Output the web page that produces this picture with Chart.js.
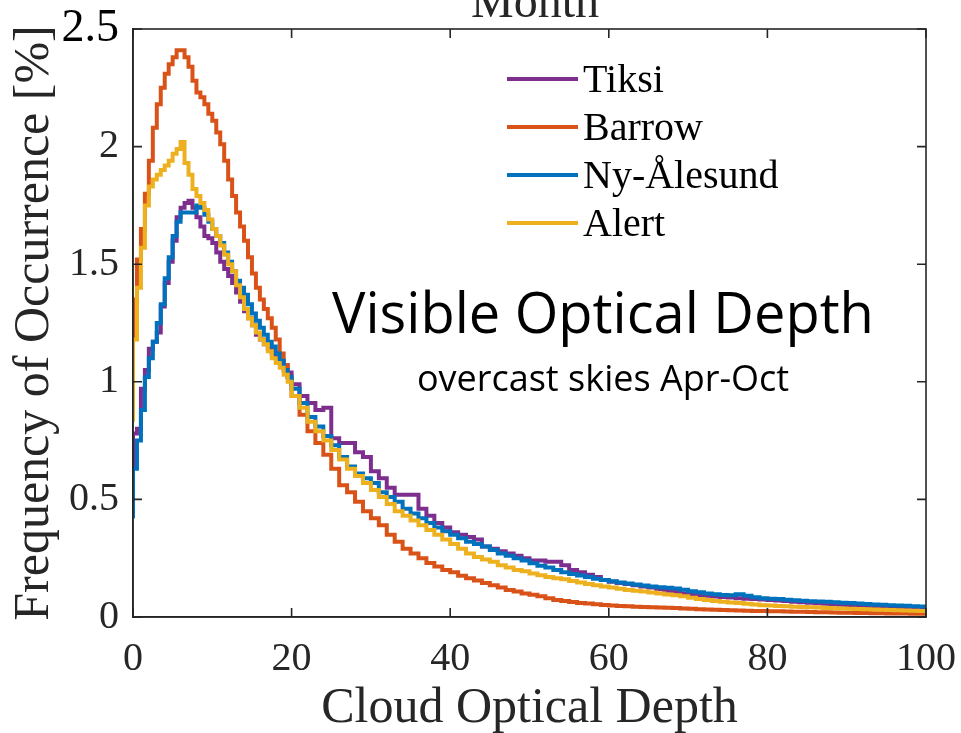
<!DOCTYPE html>
<html>
<head>
<meta charset="utf-8">
<title>Cloud Optical Depth</title>
<script src="https://cdn.jsdelivr.net/npm/chart.js@4.4.1/dist/chart.umd.min.js"></script>
<style>
  html, body { margin: 0; padding: 0; background: #fff; }
  #wrap { width: 961px; height: 733px; position: relative; }
</style>
</head>
<body>
<div id="wrap"><canvas id="myChart"></canvas></div>
<script>
// histogram bin edges (half-unit bins up to 20, unit bins after)
const odBins = [
  0, 0.5, 1, 1.5, 2, 2.5, 3, 3.5, 4, 4.5, 5, 5.5, 6, 6.5, 7, 7.5, 8, 8.5, 9, 9.5,
  10, 10.5, 11, 11.5, 12, 12.5, 13, 13.5, 14, 14.5, 15, 15.5, 16, 16.5, 17, 17.5, 18, 18.5, 19, 19.5,
  20, 21, 22, 23, 24, 25, 26, 27, 28, 29, 30, 31, 32, 33, 34, 35, 36, 37, 38, 39,
  40, 41, 42, 43, 44, 45, 46, 47, 48, 49, 50, 51, 52, 53, 54, 55, 56, 57, 58, 59,
  60, 61, 62, 63, 64, 65, 66, 67, 68, 69, 70, 71, 72, 73, 74, 75, 76, 77, 78, 79,
  80, 81, 82, 83, 84, 85, 86, 87, 88, 89, 90, 91, 92, 93, 94, 95, 96, 97, 98, 99, 100
];

const tiksi = [
  0.53, 0.78, 0.80, 0.97, 1.05, 1.14, 1.17, 1.21, 1.32, 1.42, 1.51, 1.60, 1.70, 1.74, 1.76, 1.77, 1.74, 1.70, 1.66, 1.62,
  1.61, 1.59, 1.55, 1.51, 1.48, 1.45, 1.42, 1.38, 1.34, 1.30, 1.27, 1.24, 1.20, 1.18, 1.16, 1.14, 1.12, 1.10, 1.09, 1.07,
  1.04, 0.99, 0.94, 0.91, 0.88, 0.89, 0.76, 0.74, 0.74, 0.70, 0.68, 0.62, 0.59, 0.55, 0.52, 0.52, 0.52, 0.46, 0.43, 0.40,
  0.38, 0.36, 0.35, 0.34, 0.33, 0.30, 0.29, 0.28, 0.27, 0.26, 0.25, 0.24, 0.24, 0.235, 0.235, 0.22, 0.20, 0.19, 0.18, 0.17,
  0.157, 0.15, 0.145, 0.14, 0.135, 0.13, 0.125, 0.118, 0.112, 0.107, 0.10, 0.095, 0.093, 0.09, 0.087, 0.085, 0.083, 0.080, 0.078, 0.076,
  0.074, 0.072, 0.070, 0.068, 0.065, 0.063, 0.061, 0.058, 0.056, 0.054, 0.052, 0.051, 0.049, 0.048, 0.046, 0.045, 0.044, 0.043, 0.042, 0.041, 0.040
];

const barrow = [
  0.85, 1.35, 1.52, 1.65, 1.80, 1.94, 2.08, 2.18, 2.25, 2.31, 2.35, 2.38, 2.41, 2.41, 2.38, 2.34, 2.28, 2.23, 2.21, 2.18,
  2.14, 2.11, 2.06, 2.01, 1.94, 1.86, 1.79, 1.72, 1.66, 1.60, 1.53, 1.46, 1.40, 1.35, 1.31, 1.27, 1.23, 1.18, 1.12, 1.07,
  1.02, 0.94, 0.86, 0.79, 0.74, 0.69, 0.63, 0.56, 0.53, 0.49, 0.45, 0.42, 0.39, 0.35, 0.32, 0.29, 0.27, 0.25, 0.23, 0.215,
  0.20, 0.19, 0.175, 0.165, 0.155, 0.145, 0.135, 0.125, 0.115, 0.108, 0.100, 0.095, 0.088, 0.080, 0.072, 0.068, 0.064, 0.060, 0.057, 0.054,
  0.051, 0.049, 0.047, 0.046, 0.044, 0.043, 0.041, 0.040, 0.039, 0.038, 0.036, 0.035, 0.033, 0.032, 0.031, 0.030, 0.029, 0.028, 0.027, 0.026,
  0.025, 0.024, 0.024, 0.023, 0.022, 0.022, 0.021, 0.020, 0.020, 0.019, 0.018, 0.018, 0.017, 0.017, 0.016, 0.016, 0.015, 0.015, 0.015, 0.014, 0.014
];

const nyAlesund = [
  0.42, 0.63, 0.75, 0.88, 1.02, 1.10, 1.17, 1.25, 1.33, 1.44, 1.53, 1.62, 1.68, 1.72, 1.72, 1.72, 1.72, 1.75, 1.74, 1.71,
  1.68, 1.65, 1.62, 1.59, 1.55, 1.51, 1.47, 1.43, 1.40, 1.37, 1.33, 1.29, 1.26, 1.23, 1.20, 1.17, 1.15, 1.12, 1.09, 1.05,
  1.02, 0.97, 0.91, 0.85, 0.81, 0.77, 0.73, 0.68, 0.64, 0.61, 0.59, 0.57, 0.53, 0.51, 0.49, 0.46, 0.44, 0.42, 0.40, 0.38,
  0.365, 0.35, 0.335, 0.32, 0.31, 0.30, 0.285, 0.27, 0.26, 0.25, 0.24, 0.228, 0.218, 0.21, 0.20, 0.19, 0.183, 0.176, 0.17, 0.163,
  0.157, 0.152, 0.147, 0.142, 0.138, 0.134, 0.13, 0.127, 0.124, 0.121, 0.116, 0.11, 0.105, 0.10, 0.097, 0.094, 0.093, 0.097, 0.090, 0.084,
  0.080, 0.078, 0.076, 0.073, 0.071, 0.069, 0.067, 0.066, 0.065, 0.063, 0.061, 0.059, 0.057, 0.055, 0.053, 0.052, 0.050, 0.049, 0.048, 0.046, 0.045
];

const alert = [
  0.83, 1.18, 1.40, 1.57, 1.75, 1.83, 1.86, 1.88, 1.90, 1.92, 1.94, 1.97, 1.99, 2.02, 1.93, 1.88, 1.82, 1.79, 1.76, 1.73,
  1.69, 1.65, 1.62, 1.58, 1.54, 1.50, 1.47, 1.41, 1.36, 1.31, 1.27, 1.24, 1.21, 1.18, 1.16, 1.13, 1.10, 1.08, 1.06, 1.03,
  1.00, 0.94, 0.89, 0.83, 0.79, 0.75, 0.71, 0.67, 0.63, 0.60, 0.57, 0.54, 0.51, 0.48, 0.45, 0.43, 0.41, 0.39, 0.37, 0.35,
  0.33, 0.31, 0.29, 0.27, 0.255, 0.245, 0.235, 0.22, 0.21, 0.20, 0.195, 0.185, 0.178, 0.17, 0.165, 0.16, 0.153, 0.147, 0.14, 0.135,
  0.13, 0.125, 0.12, 0.115, 0.112, 0.108, 0.104, 0.10, 0.096, 0.093, 0.088, 0.082, 0.076, 0.072, 0.068, 0.065, 0.062, 0.059, 0.056, 0.053,
  0.050, 0.049, 0.047, 0.046, 0.044, 0.043, 0.041, 0.040, 0.038, 0.037, 0.036, 0.035, 0.034, 0.033, 0.032, 0.031, 0.030, 0.029, 0.028, 0.027, 0.026
];

const stations = ["Tiksi", "Barrow", "Ny-Ålesund", "Alert"];
const stationColors = ["#7E2F8E", "#D95319", "#0072BD", "#EDB120"];
const xTicks = [0, 20, 40, 60, 80, 100];
const yTicks = [0, 0.5, 1, 1.5, 2, 2.5];

const axisColor = "#262626";
const serif = "'Liberation Serif', 'Times New Roman', serif";
const sans = "'Open Sans', sans-serif";

function toPoints(values) {
  return values.map((v, i) => ({ x: odBins[i], y: v }));
}

const seriesValues = [tiksi, barrow, nyAlesund, alert];
const datasets = stations.map((name, i) => ({
  label: name,
  data: toPoints(seriesValues[i]),
  borderColor: stationColors[i],
  backgroundColor: stationColors[i],
  borderWidth: 4,
  pointRadius: 0,
  stepped: "after",
  fill: false,
  order: stations.length - 1 - i,
}));

// box outline plus inward tick marks on all four sides
const frameTicks = {
  id: "frameTicks",
  afterDatasetsDraw(chart) {
    const { ctx, chartArea: a, scales } = chart;
    ctx.save();
    ctx.strokeStyle = axisColor;
    ctx.lineWidth = 1.6;
    ctx.strokeRect(a.left, a.top, a.right - a.left, a.bottom - a.top);
    ctx.beginPath();
    const len = 9;
    xTicks.forEach(v => {
      const px = scales.x.getPixelForValue(v);
      ctx.moveTo(px, a.bottom); ctx.lineTo(px, a.bottom - len);
      ctx.moveTo(px, a.top); ctx.lineTo(px, a.top + len);
    });
    yTicks.forEach(v => {
      const py = scales.y.getPixelForValue(v);
      ctx.moveTo(a.left, py); ctx.lineTo(a.left + len, py);
      ctx.moveTo(a.right, py); ctx.lineTo(a.right - len, py);
    });
    ctx.stroke();
    ctx.restore();
  },
};

// legend block and the text notes inside the axes
const notes = {
  id: "notes",
  afterDraw(chart) {
    const { ctx } = chart;
    ctx.save();
    // legend
    const lx0 = 507, lx1 = 578, ly0 = 79, dy = 48;
    ctx.textAlign = "left";
    ctx.textBaseline = "middle";
    ctx.font = "40px " + serif;
    chart.data.datasets.forEach((ds, i) => {
      const y = ly0 + i * dy;
      ctx.strokeStyle = ds.borderColor;
      ctx.lineWidth = 4;
      ctx.beginPath();
      ctx.moveTo(lx0, y);
      ctx.lineTo(lx1, y);
      ctx.stroke();
      ctx.fillStyle = "#000";
      ctx.fillText(ds.label, lx1 + 5, y + 2);
    });

    ctx.textAlign = "center";
    ctx.textBaseline = "alphabetic";
    ctx.fillStyle = "#000";
    ctx.font = "56px " + sans;
    ctx.fillText("Visible Optical Depth", 603, 333);
    ctx.font = "36px " + sans;
    ctx.fillText("overcast skies Apr-Oct", 603, 391);

    // heading text above the frame, mostly cut off by the page edge
    ctx.fillStyle = axisColor;
    ctx.font = "48px " + serif;
    ctx.fillText("Month", 535, 17);
    ctx.restore();
  },
};

Chart.defaults.font.family = serif;
Chart.defaults.color = axisColor;

const ctx = document.getElementById("myChart");
new Chart(ctx, {
  type: "line",
  data: { datasets },
  options: {
    responsive: true,
    maintainAspectRatio: false,
    animation: false,
    layout: { padding: { top: 29, right: 35, left: 0, bottom: 0 } },
    plugins: {
      legend: { display: false },
      tooltip: { enabled: false },
    },
    scales: {
      x: {
        type: "linear",
        min: 0,
        max: 100,
        afterBuildTicks: s => { s.ticks = xTicks.map(v => ({ value: v })); },
        afterFit: s => { s.height = 116; s.paddingLeft = 0; s.paddingRight = 0; },
        grid: { display: false, drawTicks: false },
        border: { display: true, color: axisColor, width: 1.6 },
        ticks: { padding: 18, font: { size: 40 }, color: axisColor, maxRotation: 0 },
        title: {
          display: true,
          text: "Cloud Optical Depth",
          font: { size: 50 },
          color: axisColor,
          padding: { top: 0, bottom: -6 },
        },
      },
      y: {
        min: 0,
        max: 2.5,
        afterBuildTicks: s => { s.ticks = yTicks.map(v => ({ value: v })); },
        afterFit: s => { s.width = 133; s.paddingTop = 0; s.paddingBottom = 0; },
        grid: { display: false, drawTicks: false },
        border: { display: true, color: axisColor, width: 1.6 },
        ticks: {
          padding: 14,
          callback: v => String(v),
          color: c => (c.tick && c.tick.value === 2.5 ? "#000" : axisColor),
          font: c => (c.tick && c.tick.value === 2.5 ? { size: 46 } : { size: 40 }),
        },
        title: {
          display: true,
          text: "Frequency of Occurrence [%]",
          font: { size: 50 },
          color: axisColor,
          padding: { top: 5, bottom: 0 },
        },
      },
    },
  },
  plugins: [frameTicks, notes],
});
</script>
</body>
</html>
